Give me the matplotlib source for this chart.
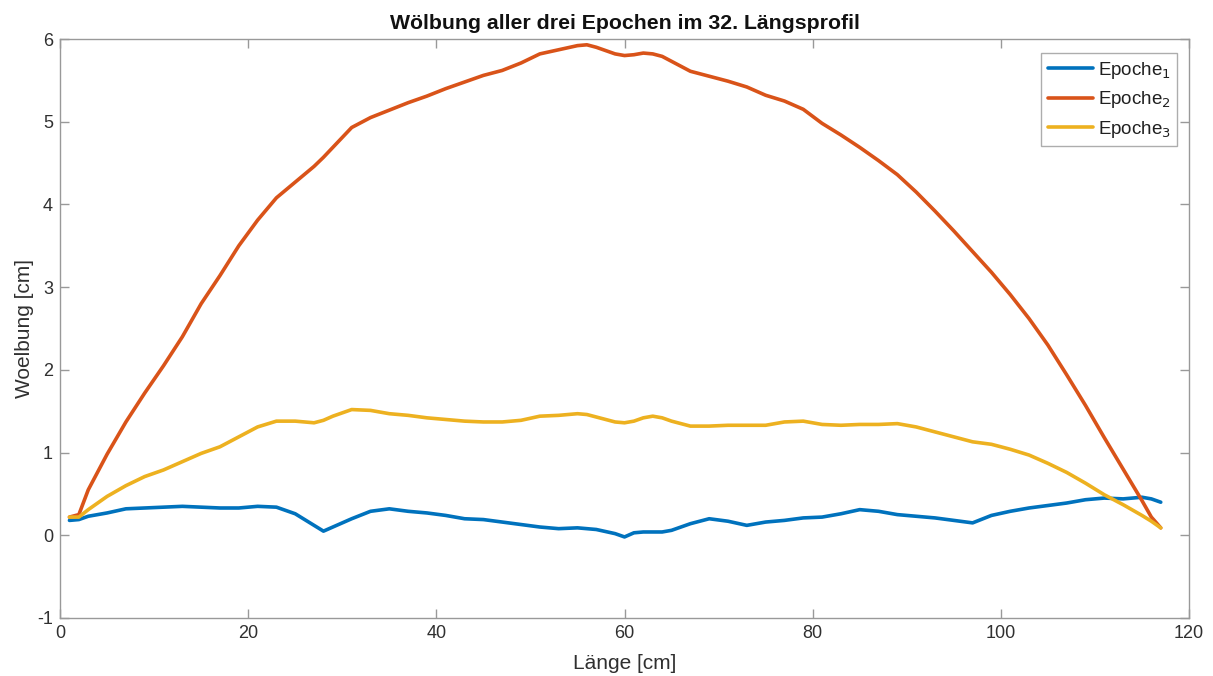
import matplotlib
matplotlib.use("Agg")
import matplotlib.pyplot as plt

plt.rcParams['font.family'] = ['Liberation Sans', 'DejaVu Sans']
plt.rcParams['axes.unicode_minus'] = False

laenge = [1, 2, 3, 5, 7, 9, 11, 13, 15, 17, 19, 21, 23, 25, 27, 28, 29, 31, 33, 35,
          37, 39, 41, 43, 45, 47, 49, 51, 53, 55, 56, 57, 59, 60, 61, 62, 63, 64, 65,
          67, 69, 71, 73, 75, 77, 79, 81, 83, 85, 87, 89, 91, 93, 95, 97, 99, 101, 103,
          105, 107, 109, 111, 113, 115, 116, 117]

epoche1 = [0.18, 0.19, 0.23, 0.27, 0.32, 0.33, 0.34, 0.35, 0.34, 0.33, 0.33, 0.35, 0.34,
           0.26, 0.12, 0.05, 0.10, 0.20, 0.29, 0.32, 0.29, 0.27, 0.24, 0.20, 0.19, 0.16,
           0.13, 0.10, 0.08, 0.09, 0.08, 0.07, 0.02, -0.02, 0.03, 0.04, 0.04, 0.04, 0.06,
           0.14, 0.20, 0.17, 0.12, 0.16, 0.18, 0.21, 0.22, 0.26, 0.31, 0.29, 0.25, 0.23,
           0.21, 0.18, 0.15, 0.24, 0.29, 0.33, 0.36, 0.39, 0.43, 0.45, 0.44, 0.46, 0.44, 0.40]

epoche2 = [0.22, 0.25, 0.55, 0.98, 1.37, 1.72, 2.05, 2.40, 2.80, 3.14, 3.50, 3.81, 4.08,
           4.27, 4.46, 4.57, 4.69, 4.93, 5.05, 5.14, 5.23, 5.31, 5.40, 5.48, 5.56, 5.62,
           5.71, 5.82, 5.87, 5.92, 5.93, 5.90, 5.82, 5.80, 5.81, 5.83, 5.82, 5.79, 5.73,
           5.61, 5.55, 5.49, 5.42, 5.32, 5.25, 5.15, 4.98, 4.84, 4.69, 4.53, 4.36, 4.15,
           3.92, 3.68, 3.43, 3.18, 2.91, 2.62, 2.30, 1.94, 1.57, 1.18, 0.80, 0.42, 0.22, 0.09]

epoche3 = [0.22, 0.22, 0.31, 0.47, 0.60, 0.71, 0.79, 0.89, 0.99, 1.07, 1.19, 1.31, 1.38,
           1.38, 1.36, 1.39, 1.44, 1.52, 1.51, 1.47, 1.45, 1.42, 1.40, 1.38, 1.37, 1.37,
           1.39, 1.44, 1.45, 1.47, 1.46, 1.43, 1.37, 1.36, 1.38, 1.42, 1.44, 1.42, 1.38,
           1.32, 1.32, 1.33, 1.33, 1.33, 1.37, 1.38, 1.34, 1.33, 1.34, 1.34, 1.35, 1.31,
           1.25, 1.19, 1.13, 1.10, 1.04, 0.97, 0.87, 0.76, 0.63, 0.49, 0.37, 0.24, 0.17, 0.09]

labels = ['Epoche$_1$', 'Epoche$_2$', 'Epoche$_3$']
colors = ['#0072BD', '#D95319', '#EDB120']
xticks = [0, 20, 40, 60, 80, 100, 120]
yticks = [-1, 0, 1, 2, 3, 4, 5, 6]

fig = plt.figure(figsize=(12.13, 6.76), dpi=100)
ax = fig.add_axes([0.0495, 0.0858, 0.9307, 0.8565])

for ys, lab, c in zip([epoche1, epoche2, epoche3], labels, colors):
    ax.plot(laenge, ys, color=c, linewidth=2.6, label=lab,
            solid_joinstyle='round', solid_capstyle='round')

ax.set_xlim(0, 120)
ax.set_ylim(-1, 6)
ax.set_xticks(xticks)
ax.set_yticks(yticks)

spine_col = '#999999'
for s in ax.spines.values():
    s.set_color(spine_col)
    s.set_linewidth(1.0)
ax.tick_params(direction='in', length=6.5, width=1.0, color=spine_col,
               labelcolor='#303030', labelsize=13, top=True, right=True, pad=5)

ax.set_title('Wölbung aller drei Epochen im 32. Längsprofil', fontsize=15.3,
             fontweight='bold', color='#111111', pad=7)
ax.set_xlabel('Länge [cm]', fontsize=15, color='#303030', labelpad=9)
ax.set_ylabel('Woelbung [cm]', fontsize=15, color='#303030', labelpad=2)

leg = ax.legend(loc='upper right', bbox_to_anchor=(0.9895, 0.975), fontsize=13.5,
                frameon=True, fancybox=False, handlelength=2.4, handletextpad=0.25,
                borderpad=0.35, labelspacing=0.45, borderaxespad=0.0)
leg.get_frame().set_edgecolor('#999999')
leg.get_frame().set_linewidth(1.0)
for t in leg.get_texts():
    t.set_color('#202020')

fig.savefig('out.png', dpi=100)
